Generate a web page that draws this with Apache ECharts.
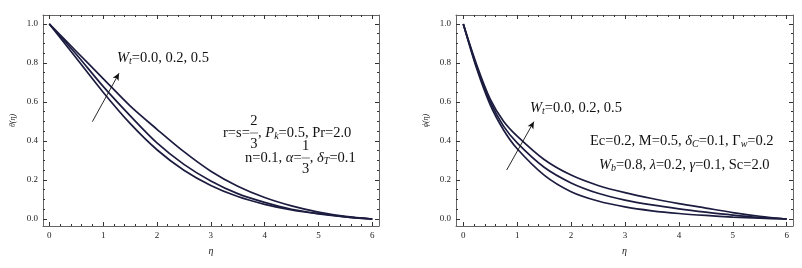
<!DOCTYPE html>
<html>
<head>
<meta charset="utf-8">
<script src="https://cdn.jsdelivr.net/npm/echarts@6/dist/echarts.min.js"></script>
<style>
html,body{margin:0;padding:0;background:#fff;}
#c{width:802px;height:268px;}
</style>
</head>
<body>
<div id="c"></div>
<script>
// ---- data ----
const etaL = [0, 0.5, 1, 1.5, 2, 2.5, 3, 3.5, 4, 4.5, 5, 5.5, 6];
const thetaWt00 = [1, 0.825, 0.65, 0.49, 0.355, 0.25, 0.172, 0.115, 0.075, 0.046, 0.026, 0.011, 0];
const thetaWt02 = [1, 0.845, 0.68, 0.53, 0.39, 0.28, 0.195, 0.13, 0.085, 0.05, 0.028, 0.011, 0];
const thetaWt05 = [1, 0.86, 0.72, 0.58, 0.46, 0.345, 0.245, 0.168, 0.11, 0.067, 0.035, 0.013, 0];

const etaR = [0, 0.25, 0.5, 0.75, 1, 1.5, 2, 2.5, 3, 3.5, 4, 4.5, 5, 5.5, 6];
const phiWt00 = [1, 0.77, 0.585, 0.455, 0.36, 0.225, 0.14, 0.092, 0.062, 0.042, 0.028, 0.018, 0.01, 0.004, 0];
const phiWt02 = [1, 0.78, 0.6, 0.475, 0.39, 0.265, 0.185, 0.132, 0.097, 0.072, 0.052, 0.035, 0.02, 0.008, 0];
const phiWt05 = [1, 0.79, 0.615, 0.5, 0.425, 0.305, 0.225, 0.172, 0.135, 0.105, 0.079, 0.056, 0.033, 0.014, 0];

const xMajorTicks = [0, 1, 2, 3, 4, 5, 6];
const yMajorTicks = [0, 0.2, 0.4, 0.6, 0.8, 1.0];
const xMinorTicks = [];
for (let i = 0; i <= 30; i++) { if (i % 5) xMinorTicks.push(+(i * 0.2).toFixed(2)); }
const yMinorTicks = [];
for (let i = 0; i <= 20; i++) { if (i % 4) yMinorTicks.push(+(i * 0.05).toFixed(2)); }

// ---- styling ----
const SERIF = '"Liberation Serif", "DejaVu Serif", serif';
const FRAME = '#666';
const TICK = '#333';
const CURVE = '#1c1c40';

function pairs(xs, ys) { return xs.map((x, i) => [x, ys[i]]); }

function makeX(grid, min, max, pos, ticks, len, labels, line) {
  return {
    gridIndex: grid, type: 'value', min: min, max: max, position: pos,
    axisLine: { show: line, onZero: false, lineStyle: { color: FRAME, width: 1 } },
    axisTick: { show: true, inside: true, length: len, customValues: ticks, lineStyle: { color: TICK, width: 1 } },
    axisLabel: labels ? { show: true, customValues: ticks, margin: 5, fontFamily: SERIF, fontSize: 9, color: '#222',
      formatter: v => String(Math.round(v)) } : { show: false },
    splitLine: { show: false }
  };
}
function makeY(grid, pos, ticks, len, labels, line) {
  return {
    gridIndex: grid, type: 'value', min: -0.036, max: 1.046, position: pos,
    axisLine: { show: line, onZero: false, lineStyle: { color: FRAME, width: 1 } },
    axisTick: { show: true, inside: true, length: len, customValues: ticks, lineStyle: { color: TICK, width: 1 } },
    axisLabel: labels ? { show: true, customValues: ticks, margin: 5, fontFamily: SERIF, fontSize: 9, color: '#222',
      formatter: v => v.toFixed(1) } : { show: false },
    splitLine: { show: false }
  };
}

const xAxes = [], yAxes = [];
[[0, -0.117, 6.124], [1, -0.135, 6.117]].forEach(([g, mn, mx]) => {
  xAxes.push(makeX(g, mn, mx, 'bottom', xMajorTicks, 4, true, true));
  xAxes.push(makeX(g, mn, mx, 'bottom', xMinorTicks, 2, false, false));
  xAxes.push(makeX(g, mn, mx, 'top', xMajorTicks, 4, false, true));
  xAxes.push(makeX(g, mn, mx, 'top', xMinorTicks, 2, false, false));
  yAxes.push(makeY(g, 'left', yMajorTicks, 4, true, true));
  yAxes.push(makeY(g, 'left', yMinorTicks, 2, false, false));
  yAxes.push(makeY(g, 'right', yMajorTicks, 4, false, true));
  yAxes.push(makeY(g, 'right', yMinorTicks, 2, false, false));
});
// axis names
xAxes[0].name = 'η'; xAxes[4].name = 'η';
yAxes[0].name = 'θ(η)'; yAxes[4].name = 'ϕ(η)';
[xAxes[0], xAxes[4]].forEach(a => { a.nameLocation = 'middle'; a.nameGap = 20;
  a.nameTextStyle = { fontFamily: SERIF, fontStyle: 'italic', fontSize: 10, color: '#222' }; });
[yAxes[0], yAxes[4]].forEach(a => { a.nameLocation = 'middle'; a.nameGap = 26; a.nameRotate = 90;
  a.nameTextStyle = { fontFamily: SERIF, fontStyle: 'italic', fontSize: 8, color: '#222' }; });

function curve(xs, ys, ax) {
  return { type: 'line', xAxisIndex: ax, yAxisIndex: ax, data: pairs(xs, ys), showSymbol: false,
    smooth: 0.3, lineStyle: { color: CURVE, width: 1.7 }, silent: true, z: 3 };
}
function arrowSeries(ax, p0, p1) {
  return { type: 'line', xAxisIndex: ax, yAxisIndex: ax, data: [], silent: true,
    markLine: { silent: true, symbol: ['none', 'arrow'], symbolSize: [5, 7], animation: false,
      lineStyle: { color: '#111', width: 0.9, type: 'solid' }, label: { show: false },
      data: [[{ coord: p0 }, { coord: p1 }]] } };
}

const series = [
  curve(etaL, thetaWt00, 0), curve(etaL, thetaWt02, 0), curve(etaL, thetaWt05, 0),
  curve(etaR, phiWt00, 4), curve(etaR, phiWt02, 4), curve(etaR, phiWt05, 4),
  arrowSeries(0, [0.80, 0.499], [1.295, 0.747]),
  arrowSeries(4, [0.805, 0.251], [1.31, 0.499])
];

// ---- annotation text layout ----
const FS = 14.5;
const fonts = {
  n: FS + 'px ' + SERIF,
  i: 'italic ' + FS + 'px ' + SERIF,
  s: 'italic 10px ' + SERIF
};
const mctx = document.createElement('canvas').getContext('2d');
function tw(t, st) { mctx.font = fonts[st]; return mctx.measureText(t).width; }
function textEl(x, y, t, st) {
  return { type: 'text', x: x, y: y, silent: true, z: 10,
    style: { text: t, font: fonts[st], fill: '#111', textAlign: 'left', textVerticalAlign: 'middle' } };
}
// segments: [text, style] or {frac:[num, den]}
function layoutLine(x, y, segs) {
  const els = [];
  let cx = x;
  segs.forEach(sg => {
    if (sg.frac) {
      const w = Math.max(tw(sg.frac[0], 'n'), tw(sg.frac[1], 'n')) + 1;
      els.push(textEl(cx + 0.5, y - 11.5, sg.frac[0], 'n'));
      els.push(textEl(cx + 0.5, y + 11, sg.frac[1], 'n'));
      els.push({ type: 'line', silent: true, z: 10, shape: { x1: cx, y1: y, x2: cx + w, y2: y },
        style: { stroke: '#777', lineWidth: 1 } });
      cx += w;
    } else {
      const [t, st] = sg;
      els.push(textEl(cx, st === 's' ? y + 3.5 : y, t, st));
      cx += tw(t, st);
    }
  });
  return els;
}

const graphics = [].concat(
  layoutLine(117, 58, [['W', 'i'], ['t', 's'], ['=0.0, 0.2, 0.5', 'n']]),
  layoutLine(223, 133, [['r=s=', 'n'], { frac: ['2', '3'] }, [', ', 'n'], ['P', 'i'], ['k', 's'], ['=0.5, Pr=2.0', 'n']]),
  layoutLine(245, 158, [['n=0.1, ', 'n'], ['α', 'i'], ['=', 'n'], { frac: ['1', '3'] }, [', ', 'n'], ['δ', 'i'], ['T', 's'], ['=0.1', 'n']]),
  layoutLine(530, 108, [['W', 'i'], ['t', 's'], ['=0.0, 0.2, 0.5', 'n']]),
  layoutLine(590, 141, [['Ec=0.2, M=0.5, ', 'n'], ['δ', 'i'], ['C', 's'], ['=0.1, Γ', 'n'], ['w', 's'], ['=0.2', 'n']]),
  layoutLine(599, 165, [['W', 'i'], ['b', 's'], ['=0.8, ', 'n'], ['λ', 'i'], ['=0.2, ', 'n'], ['γ', 'i'], ['=0.1, Sc=2.0', 'n']])
);

const chart = echarts.init(document.getElementById('c'), null, { renderer: 'canvas' });
chart.setOption({
  animation: false,
  backgroundColor: '#fff',
  grid: [
    { left: 43, top: 15, width: 336, height: 211, containLabel: false },
    { left: 456, top: 15, width: 337, height: 211, containLabel: false }
  ],
  xAxis: xAxes,
  yAxis: yAxes,
  series: series,
  graphic: graphics
});
</script>
</body>
</html>
